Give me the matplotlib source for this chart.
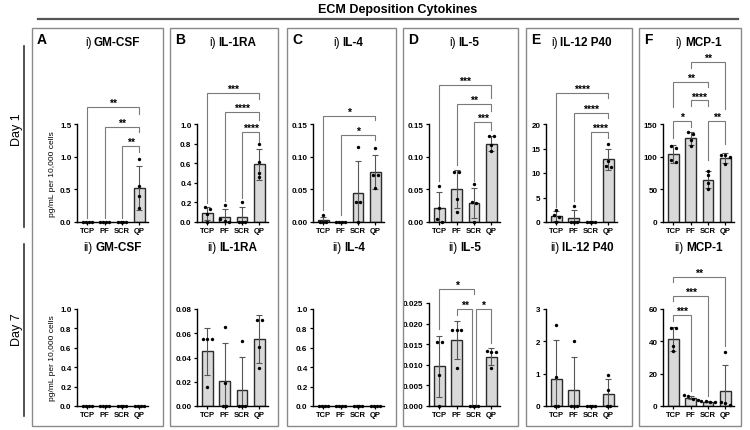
import numpy as np
import matplotlib
matplotlib.use('Agg')
import matplotlib.pyplot as plt
from matplotlib.patches import Rectangle

plt.rcParams['font.family'] = ['Liberation Sans', 'DejaVu Sans']

W, H = 750, 431

groups = ['TCP', 'PF', 'SCR', 'QP']
letters = ['A', 'B', 'C', 'D', 'E', 'F']
cytokines = ['GM-CSF', 'IL-1RA', 'IL-4', 'IL-5', 'IL-12 P40', 'MCP-1']

# ---- Day 1 (pg/mL per 10,000 cells) ----
day1_mean = {
    'GM-CSF': [0, 0, 0, 0.52],
    'IL-1RA': [0.09, 0.05, 0.05, 0.59],
    'IL-4': [0.0025, 0, 0.044, 0.076],
    'IL-5': [0.021, 0.051, 0.029, 0.12],
    'IL-12 P40': [1.25, 0.83, 0, 12.8],
    'MCP-1': [104, 128, 65, 98],
}
day1_sd = {
    'GM-CSF': [0, 0, 0, 0.33],
    'IL-1RA': [0.065, 0.08, 0.105, 0.16],
    'IL-4': [0.005, 0, 0.049, 0.026],
    'IL-5': [0.025, 0.029, 0.0235, 0.011],
    'IL-12 P40': [1.05, 1.67, 0, 2.1],
    'MCP-1': [13.5, 10.5, 12.8, 7.9],
}
day1_points = {
    'GM-CSF': [[0, 0, 0, 0], [0, 0, 0, 0], [0, 0, 0, 0], [0.97, 0.55, 0.40, 0.21]],
    'IL-1RA': [[0.15, 0.13, 0.08, 0.0], [0.17, 0.03, 0.01, 0.0], [0.2, 0, 0, 0], [0.80, 0.61, 0.50, 0.46]],
    'IL-4': [[0.01, 0, 0, 0], [0, 0, 0, 0], [0.115, 0.031, 0.031, 0.0], [0.114, 0.072, 0.072, 0.052]],
    'IL-5': [[0.055, 0.022, 0.005, 0.0], [0.077, 0.076, 0.035, 0.016], [0.058, 0.03, 0.029, 0.0],
             [0.132, 0.131, 0.118, 0.108]],
    'IL-12 P40': [[2.5, 1.4, 1.1, 0.0], [3.3, 0, 0, 0], [0, 0, 0, 0], [15.9, 12.5, 11.5, 11.3]],
    'MCP-1': [[117, 113, 95, 92], [138, 134, 126, 117], [78, 72, 60, 51], [103, 102, 100, 89]],
}
# (top, step, decimals)
day1_yaxis = {
    'GM-CSF': (1.5, 0.5, 1), 'IL-1RA': (1.0, 0.2, 1), 'IL-4': (0.15, 0.05, 2),
    'IL-5': (0.15, 0.05, 2), 'IL-12 P40': (20, 5, 0), 'MCP-1': (150, 50, 0),
}
# (group a, group b, bracket level, stars, leg bottom a, leg bottom b)
day1_brackets = {
    'GM-CSF': [(0, 3, 1.76, '**', 0.06, 1.66), (1, 3, 1.45, '**', 0.06, 1.37), (2, 3, 1.16, '**', 0.06, 1.07)],
    'IL-1RA': [(0, 3, 1.32, '***', 0.19, 1.26), (1, 3, 1.12, '****', 0.21, 1.04), (2, 3, 0.92, '****', 0.25, 0.82)],
    'IL-4': [(0, 3, 0.162, '*', 0.018, 0.156), (1, 3, 0.133, '*', 0.01, 0.125)],
    'IL-5': [(0, 3, 0.21, '***', 0.063, 0.19), (1, 3, 0.181, '**', 0.088, 0.17), (2, 3, 0.153, '***', 0.063, 0.141)],
    'IL-12 P40': [(0, 3, 26.3, '****', 3.0, 25.4), (1, 3, 22.3, '****', 4.2, 21.2), (2, 3, 18.3, '****', 0.5, 17.1)],
    'MCP-1': [(1, 3, 245, '**', 236, 173), (0, 2, 215, '**', 176, 207), (1, 2, 186, '****', 178, 178),
              (0, 1, 155, '*', 128, 146), (2, 3, 155, '**', 95, 120)],
}

# ---- Day 7 ----
day7_mean = {
    'GM-CSF': [0, 0, 0, 0],
    'IL-1RA': [0.045, 0.021, 0.0135, 0.0553],
    'IL-4': [0, 0, 0, 0],
    'IL-5': [0.0096, 0.016, 0, 0.012],
    'IL-12 P40': [0.85, 0.5, 0, 0.36],
    'MCP-1': [41.5, 5.2, 2.7, 9.5],
}
day7_sd = {
    'GM-CSF': [0, 0, 0, 0],
    'IL-1RA': [0.0195, 0.031, 0.027, 0.0195],
    'IL-4': [0, 0, 0, 0],
    'IL-5': [0.0074, 0.0046, 0, 0.0021],
    'IL-12 P40': [1.18, 1.02, 0, 0.48],
    'MCP-1': [7.6, 1.1, 0.4, 16],
}
day7_points = {
    'GM-CSF': [[0, 0, 0, 0]] * 4,
    'IL-1RA': [[0.055, 0.055, 0.055, 0.016], [0.065, 0.019, 0, 0], [0.054, 0, 0, 0], [0.071, 0.071, 0.049, 0.031]],
    'IL-4': [[0, 0, 0, 0]] * 4,
    'IL-5': [[0.0155, 0.0155, 0.0076, 0], [0.0185, 0.0185, 0.0185, 0.0092], [0, 0, 0, 0],
             [0.0133, 0.0132, 0.0131, 0.0093]],
    'IL-12 P40': [[2.5, 0.9, 0, 0], [2.0, 0, 0, 0], [0, 0, 0, 0], [0.97, 0.5, 0, 0]],
    'MCP-1': [[48.5, 48, 37, 34], [6.5, 6, 4.5, 4], [3.0, 2.9, 2.6, 2.4], [33.5, 2.5, 1.8, 0.8]],
}
day7_yaxis = {
    'GM-CSF': (1.0, 0.2, 1), 'IL-1RA': (0.08, 0.02, 2), 'IL-4': (1.0, 0.2, 1),
    'IL-5': (0.025, 0.005, 3), 'IL-12 P40': (3, 1, 0), 'MCP-1': (60, 20, 0),
}
day7_brackets = {
    'GM-CSF': [], 'IL-1RA': [], 'IL-4': [], 'IL-12 P40': [],
    'IL-5': [(0, 2, 0.0285, '*', 0.0187, 0.0273), (1, 2, 0.0236, '**', 0.022, 0.0006),
             (2, 3, 0.0236, '*', 0.0006, 0.0154)],
    'MCP-1': [(0, 3, 80, '**', 76.6, 37.2), (0, 2, 68.3, '***', 65.2, 6.2), (0, 1, 56.3, '***', 52.8, 9.3)],
}

# ---- layout (pixels) ----
box_left = [32, 170, 287, 403, 526, 639]
box_right = [163, 278, 396, 518, 632, 741]
axes_left = [77, 197, 313, 429, 546, 663]
axes_w = 71
row_bottom = [223, 407]
row_top = [[125, 125, 125, 125, 125, 125], [310, 310, 310, 304, 310, 310]]
title_y = [43, 248]

BAR_C = '#d9d9d9'
EDGE_C = '#2b2b2b'
ERR_C = '#555555'
BRK_C = '#7a7a7a'


def frect(l, t, r, b):
    return [l / W, 1 - b / H, (r - l) / W, (b - t) / H]


def spread(vals, ytop):
    vals = np.asarray(vals, float)
    order = np.argsort(-vals)
    xs = np.zeros(len(vals))
    clusters = []
    for idx in order:
        if clusters and abs(vals[clusters[-1][-1]] - vals[idx]) < 0.035 * ytop:
            clusters[-1].append(idx)
        else:
            clusters.append([idx])
    for c in clusters:
        gap = 0.17 if vals[c[0]] == 0 else 0.27
        offs = (np.arange(len(c)) - (len(c) - 1) / 2) * gap
        for k, idx in enumerate(c):
            xs[idx] = offs[k]
    return xs


def draw_panel(ax, means, sds, points, yaxis, brackets, ylabel):
    top, step, dec = yaxis
    x = np.arange(len(groups))
    ax.bar(x, means, width=0.62, color=BAR_C, edgecolor=EDGE_C, linewidth=1.0, zorder=1)
    sds = np.asarray(sds, float)
    m = sds > 0
    if m.any():
        ax.errorbar(x[m], np.asarray(means)[m], yerr=sds[m], fmt='none', ecolor=ERR_C,
                    elinewidth=0.8, capsize=2, capthick=0.8, zorder=2)
    for i, pts in enumerate(points):
        ax.scatter(i + spread(pts, top), pts, s=6, color='black', zorder=3, clip_on=False,
                   linewidths=0)

    # significance brackets
    for k, (a, b, lvl, stars, la, lb) in enumerate(brackets):
        xa, xb = float(a), float(b)
        for k2, other in enumerate(brackets):
            if k2 != k and other[2] == lvl:
                if other[0] == b:
                    xb -= 0.09
                if other[1] == a:
                    xa += 0.09
        ax.plot([xa, xa, xb, xb], [la, lvl, lvl, lb], color=BRK_C, lw=0.8,
                clip_on=False, zorder=4, solid_joinstyle='miter')
        ax.annotate(stars, ((xa + xb) / 2, lvl), xytext=(0, 0.8), textcoords='offset points',
                    ha='center', va='baseline', fontsize=7.5, fontweight='bold',
                    annotation_clip=False)

    ax.set_xlim(-0.6, 3.5)
    ax.set_ylim(0, top)
    ticks = np.arange(0, top + step / 2, step)
    ax.set_yticks(ticks)
    ax.set_yticklabels([f'{t:.{dec}f}' for t in ticks])
    ax.set_xticks(x)
    ax.set_xticklabels(groups)
    for s in ['top', 'right']:
        ax.spines[s].set_visible(False)
    for s in ['left', 'bottom']:
        ax.spines[s].set_linewidth(1.0)
    ax.tick_params(axis='both', direction='out', length=2.5, width=0.9, pad=1.5)
    ax.tick_params(axis='y', labelsize=5.8)
    ax.tick_params(axis='x', length=2, labelsize=5.5)
    for lab in ax.get_xticklabels() + ax.get_yticklabels():
        lab.set_fontweight('bold')
    ax.patch.set_alpha(0)
    if ylabel:
        ax.set_ylabel('pg/mL per 10,000 cells', fontsize=6, labelpad=3)


fig = plt.figure(figsize=(W / 100, H / 100), dpi=100)
renderer = fig.canvas.get_renderer()

fig.text(398 / W, 1 - 10 / H, 'ECM Deposition Cytokines', ha='center', va='center',
         fontsize=9, fontweight='bold')
fig.add_artist(plt.Line2D([38 / W, 738 / W], [1 - 20 / H, 1 - 20 / H], color='#555555', lw=1.6))

fig.text(17 / W, 1 - 130 / H, 'Day 1', rotation=90, ha='center', va='center', fontsize=9)
fig.add_artist(plt.Line2D([24 / W, 24 / W], [1 - 47 / H, 1 - 228 / H], color='#333333', lw=1.2))
fig.text(17 / W, 1 - 330 / H, 'Day 7', rotation=90, ha='center', va='center', fontsize=9)
fig.add_artist(plt.Line2D([24 / W, 24 / W], [1 - 245 / H, 1 - 417 / H], color='#333333', lw=1.2))

roman = ['i)', 'ii)']
gap_px = 2.5
for p, name in enumerate(cytokines):
    fig.add_artist(Rectangle((box_left[p] / W, 1 - 427 / H), (box_right[p] - box_left[p]) / W,
                             (427 - 29) / H, transform=fig.transFigure, fill=False,
                             edgecolor='#8a8a8a', lw=1.0))
    fig.text((box_left[p] + 5) / W, 1 - 40 / H, letters[p], ha='left', va='center',
             fontsize=10, fontweight='bold')
    for r, (means, sds, pts, yax, brk) in enumerate([
            (day1_mean, day1_sd, day1_points, day1_yaxis, day1_brackets),
            (day7_mean, day7_sd, day7_points, day7_yaxis, day7_brackets)]):
        ax = fig.add_axes(frect(axes_left[p], row_top[r][p], axes_left[p] + axes_w, row_bottom[r]))
        draw_panel(ax, means[name], sds[name], pts[name], yax[name], brk[name], p == 0)
        # title: "i)" regular + name bold, centred as one string over the axes
        cx = axes_left[p] + axes_w / 2
        ty = 1 - title_y[r] / H
        t1 = fig.text(0, ty, roman[r], ha='left', va='center', fontsize=8.5)
        t2 = fig.text(0, ty, name, ha='left', va='center', fontsize=8.5, fontweight='bold')
        w1 = t1.get_window_extent(renderer).width
        w2 = t2.get_window_extent(renderer).width
        x0 = cx - (w1 + gap_px + w2) / 2
        t1.set_x(x0 / W)
        t2.set_x((x0 + w1 + gap_px) / W)

fig.savefig('out.png', dpi=100)
